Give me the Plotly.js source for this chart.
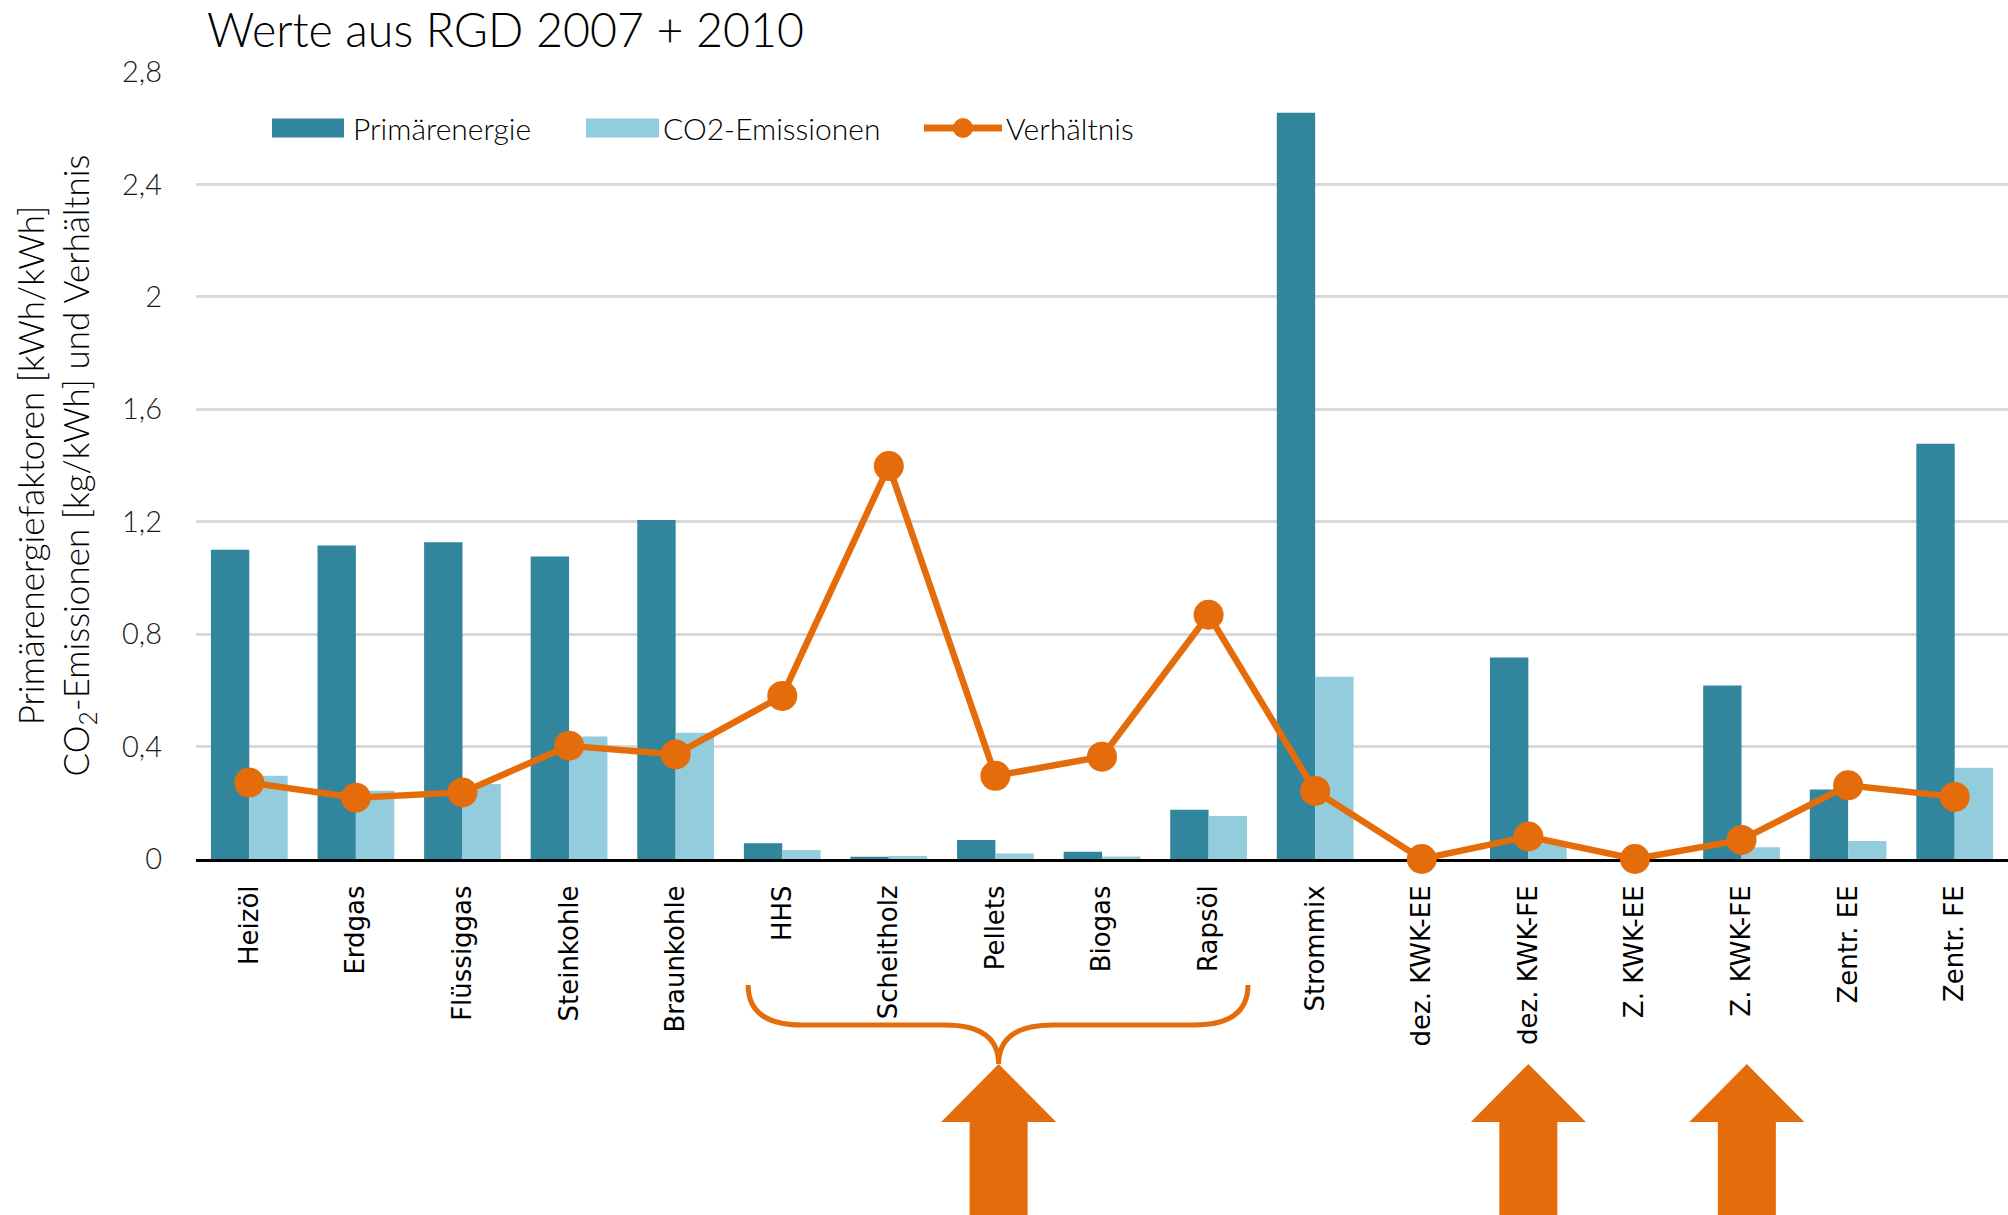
<!DOCTYPE html>
<html>
<head>
<meta charset="utf-8">
<script src="https://cdn.plot.ly/plotly-3.0.1.min.js"></script>
<style>html,body{margin:0;padding:0;background:#fff;}#chart{width:2008px;height:1215px;}</style>
</head>
<body>
<div id="chart"></div>
<script>
// ---- data ----
const categories = ['Heizöl','Erdgas','Flüssiggas','Steinkohle','Braunkohle','HHS','Scheitholz','Pellets','Biogas','Rapsöl','Strommix','dez. KWK-EE','dez. KWK-FE','Z. KWK-EE','Z. KWK-FE','Zentr. EE','Zentr. FE'];
const primaerenergie = [1.10, 1.115, 1.127, 1.076, 1.206, 0.056, 0.008, 0.068, 0.026, 0.175, 2.655, 0, 0.717, 0, 0.617, 0.247, 1.477];
const co2Emissionen = [0.296, 0.243, 0.267, 0.436, 0.449, 0.032, 0.011, 0.020, 0.009, 0.153, 0.648, 0, 0.056, 0, 0.042, 0.064, 0.325];
const verhaeltnis = [0.272, 0.218, 0.237, 0.403, 0.372, 0.580, 1.398, 0.296, 0.364, 0.869, 0.242, 0, 0.080, 0, 0.068, 0.262, 0.221];
const yTickVals = [0, 0.4, 0.8, 1.2, 1.6, 2, 2.4, 2.8];
const yTickText = ['0', '0,4', '0,8', '1,2', '1,6', '2', '2,4', '2,8'];
const seriesNames = ['Primärenergie', 'CO2-Emissionen', 'Verhältnis'];

// ---- style ----
const TEAL = '#31859C', LIGHT = '#93CDDD', ORANGE = '#E46C0A';
const W = 2008, H = 1215;
const M = {l: 196, r: 0, t: 72, b: 356};
const plotW = W - M.l - M.r, plotH = H - M.t - M.b;
const N = categories.length;
// helpers: convert category index / pixel positions to paper coordinates
const catX = i => (i + 0.5) / N;
const catW = 1 / N;
const pxY = y => (H - M.b - y) / plotH;
const pxX = x => (x - M.l) / plotW;

const traces = [
  {type: 'bar', name: seriesNames[0], x: categories, y: primaerenergie, marker: {color: TEAL}},
  {type: 'bar', name: seriesNames[1], x: categories, y: co2Emissionen, marker: {color: LIGHT}},
  {type: 'scatter', mode: 'lines+markers', name: seriesNames[2], x: categories, y: verhaeltnis,
   line: {color: ORANGE, width: 6.5}, marker: {color: ORANGE, size: 30}, cliponaxis: false}
];

// decorative brace and arrows below the axis
const iHHS = categories.indexOf('HHS'), iRaps = categories.indexOf('Rapsöl'), iPel = categories.indexOf('Pellets');
const xl = catX(iHHS) - 0.32 * catW, xr = catX(iRaps) + 0.37 * catW, xc = catX(iPel) + 0.03 * catW;
const rx = 54 / plotW;
const yTop = pxY(985), yMid = pxY(1025), yCusp = pxY(1064);
const bracePath = `M${xl},${yTop} Q${xl},${yMid} ${xl + rx},${yMid} L${xc - rx},${yMid} Q${xc},${yMid} ${xc},${yCusp} ` +
                  `Q${xc},${yMid} ${xc + rx},${yMid} L${xr - rx},${yMid} Q${xr},${yMid} ${xr},${yTop}`;
function arrowPath(cx) {
  const hw = 57.5 / plotW, sw = 29 / plotW;
  const tip = pxY(1064), base = pxY(1122), bot = pxY(1240);
  return `M${cx},${tip} L${cx + hw},${base} L${cx + sw},${base} L${cx + sw},${bot} L${cx - sw},${bot} L${cx - sw},${base} L${cx - hw},${base} Z`;
}
const arrowCats = [iPel, categories.indexOf('dez. KWK-FE'), categories.indexOf('Z. KWK-FE')];
const shapes = [
  {type: 'path', xref: 'paper', yref: 'paper', path: bracePath, line: {color: ORANGE, width: 5}}
].concat(arrowCats.map((c, k) => ({
  type: 'path', xref: 'paper', yref: 'paper',
  path: arrowPath(k === 0 ? xc : catX(c) + (k === 2 ? 0.05 * catW : 0)),
  fillcolor: ORANGE, line: {width: 0}
})));

// legend (drawn to match the wide swatches of the original)
const FONT = 'Lato, "Open Sans", sans-serif';
const legY = 128;
const legItems = [
  {x0: 272, x1: 344, tx: 352, color: TEAL, kind: 'bar'},
  {x0: 586, x1: 659, tx: 662, color: LIGHT, kind: 'bar'},
  {x0: 924, x1: 1002, tx: 1005, color: ORANGE, kind: 'line'}
];
const annotations = [];
legItems.forEach((it, k) => {
  if (it.kind === 'bar') {
    shapes.push({type: 'rect', xref: 'paper', yref: 'paper', x0: pxX(it.x0), x1: pxX(it.x1),
                 y0: pxY(legY + 9.5), y1: pxY(legY - 9.5), fillcolor: it.color, line: {width: 0}});
  } else {
    shapes.push({type: 'line', xref: 'paper', yref: 'paper', x0: pxX(it.x0), x1: pxX(it.x1),
                 y0: pxY(legY), y1: pxY(legY), line: {color: it.color, width: 7}});
    const cx = (it.x0 + it.x1) / 2;
    shapes.push({type: 'circle', xref: 'paper', yref: 'paper', x0: pxX(cx - 10), x1: pxX(cx + 10),
                 y0: pxY(legY + 10), y1: pxY(legY - 10), fillcolor: it.color, line: {width: 0}});
  }
  annotations.push({xref: 'paper', yref: 'paper', x: pxX(it.tx), y: pxY(legY), xanchor: 'left', yanchor: 'middle',
                    text: seriesNames[k], showarrow: false, borderpad: 0,
                    font: {family: FONT, size: 30, weight: 300, color: '#000'}});
});

const layout = {
  width: W, height: H,
  margin: M,
  paper_bgcolor: '#ffffff', plot_bgcolor: '#ffffff',
  separators: ',.',
  title: {text: 'Werte aus RGD 2007 + 2010', xref: 'container', x: 207 / W, xanchor: 'left',
          y: 1 - 31 / H, yanchor: 'middle', font: {family: FONT, size: 46.5, weight: 300, color: '#000'}},
  barmode: 'group', bargap: 0.28, bargroupgap: 0,
  showlegend: false,
  xaxis: {type: 'category', range: [-0.5, N - 0.5], showgrid: false, showline: true, linecolor: '#000', linewidth: 3,
          ticks: '', tickangle: -90, ticklabelstandoff: 13, layer: 'below traces',
          tickfont: {family: '"DejaVu Sans", sans-serif', size: 26, color: '#000'}},
  yaxis: {range: [0, 2.8], tickvals: yTickVals, ticktext: yTickText, showgrid: true, gridcolor: '#D9D9D9', gridwidth: 3,
          zeroline: false, showline: false, ticks: '', ticklabelstandoff: 33, layer: 'below traces',
          tickfont: {family: FONT, size: 29, weight: 300, color: '#1a1a1a'},
          title: {text: 'Primärenergiefaktoren [kWh/kWh]<br>CO<sub>2</sub>-Emissionen [kg/kWh] und Verhältnis',
                  standoff: 21, font: {family: FONT, size: 35, weight: 300, color: '#000'}}},
  shapes: shapes,
  annotations: annotations
};

Plotly.newPlot('chart', traces, layout, {displayModeBar: false, staticPlot: true});
</script>
</body>
</html>
